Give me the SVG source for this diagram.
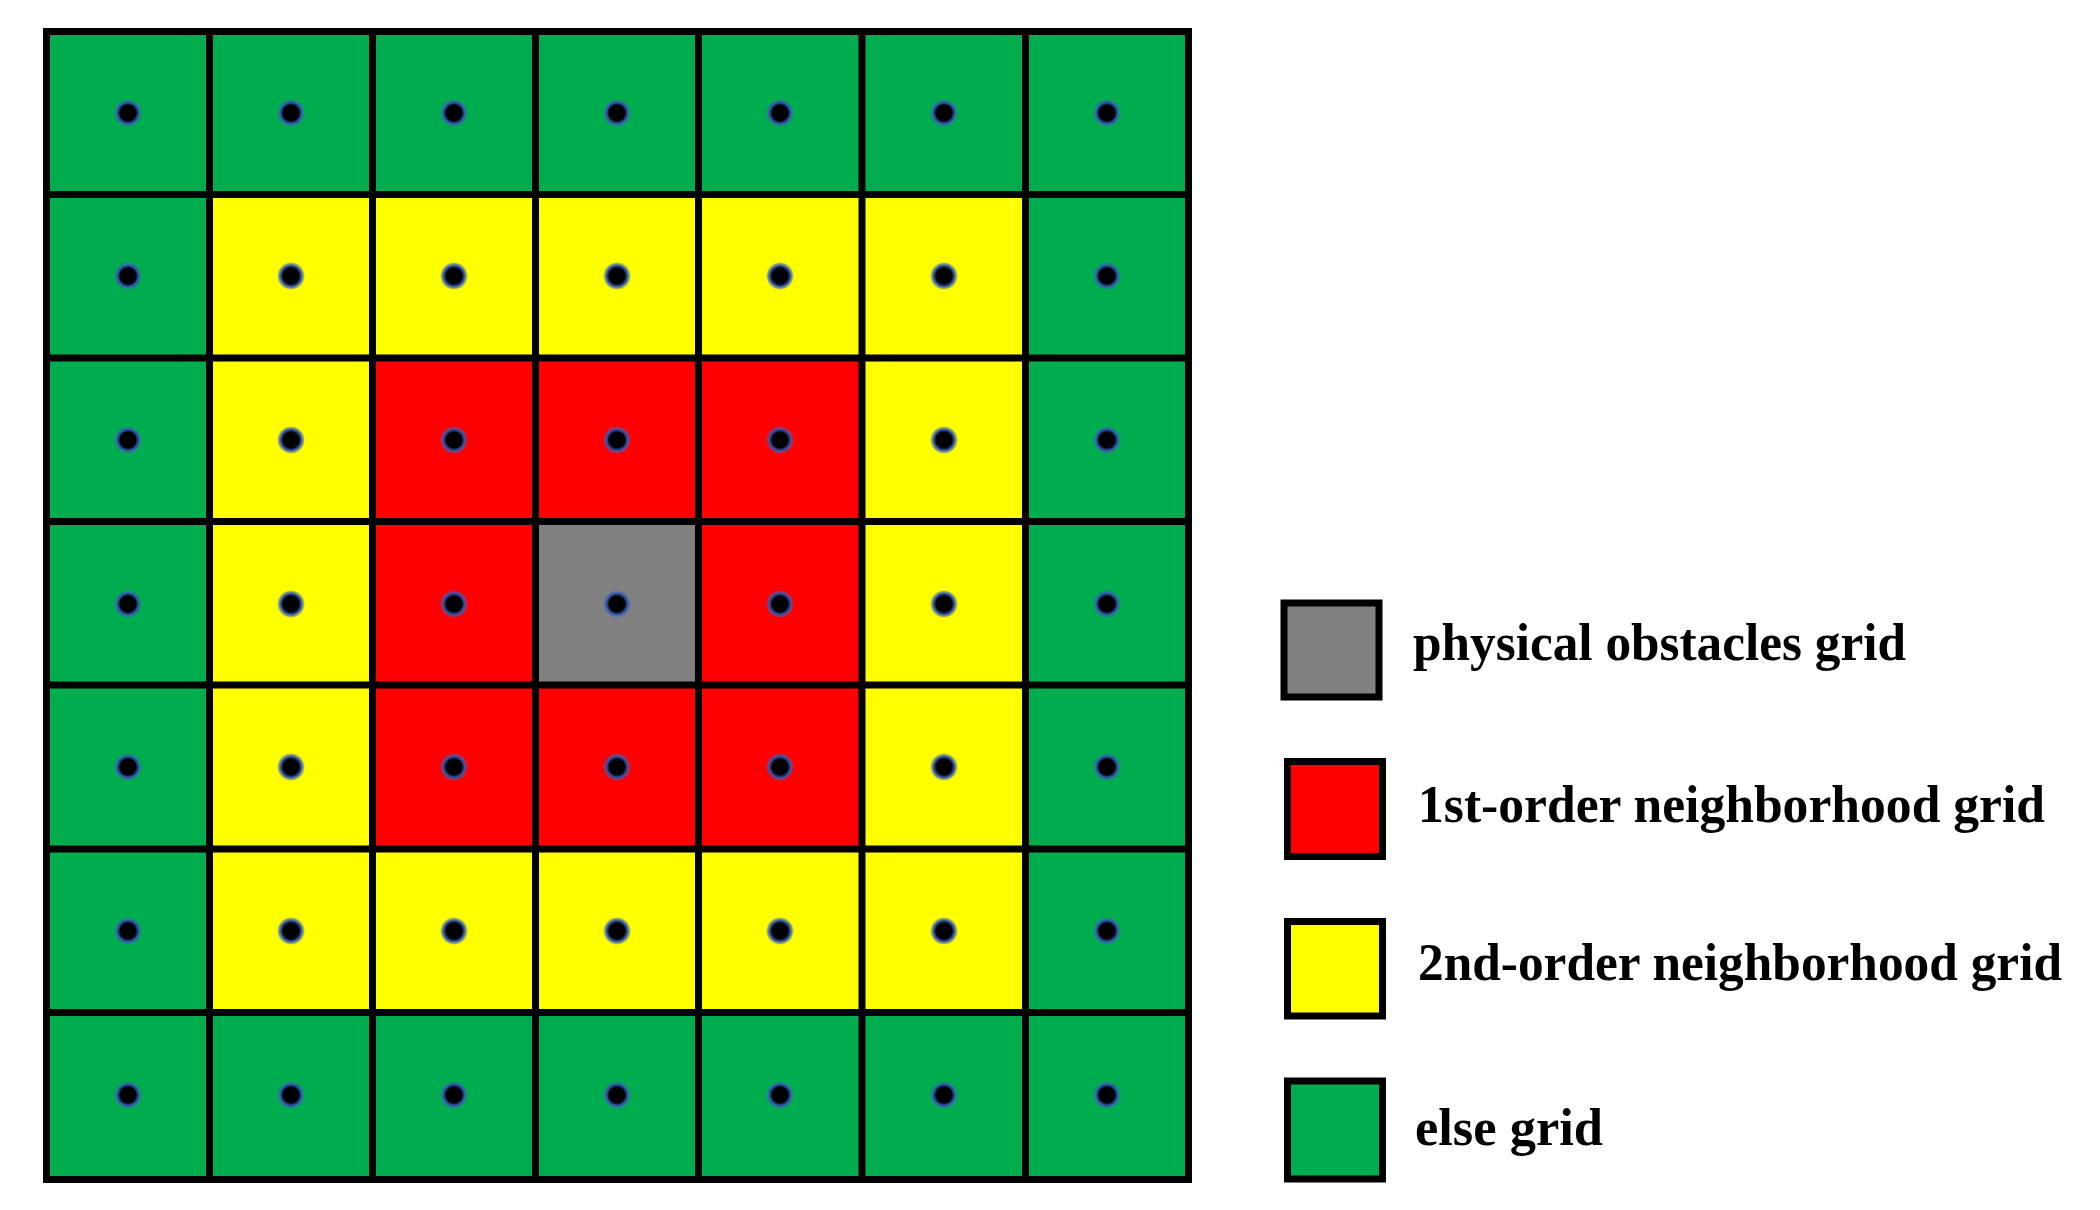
<svg xmlns="http://www.w3.org/2000/svg" width="2100" height="1210" viewBox="0 0 2100 1210">
<style>
.g{fill:#00AD4E}.y{fill:#FFFF00}.r{fill:#FF0000}.o{fill:#808080}
.ln{fill:none;stroke:#000;stroke-width:7}
.dot{fill:url(#dg)}
.lb{stroke:#000;stroke-width:7}
.tx{font-family:"Liberation Serif","DejaVu Serif",serif;font-weight:bold;font-size:53px;fill:#000}
</style>
<defs>
<radialGradient id="dg">
<stop offset="0" stop-color="#000"/>
<stop offset="0.55" stop-color="#000"/>
<stop offset="0.72" stop-color="#2a4a9a"/>
<stop offset="0.88" stop-color="#3d63c0" stop-opacity="0.6"/>
<stop offset="1" stop-color="#3d63c0" stop-opacity="0"/>
</radialGradient>
</defs>
<rect width="2100" height="1210" fill="#fff"/>
<g id="grid">
<g id="row0">
<rect id="c00" class="g" x="46.5" y="31.5" width="163" height="163"/>
<rect id="c01" class="g" x="209.5" y="31.5" width="163" height="163"/>
<rect id="c02" class="g" x="372.5" y="31.5" width="163" height="163"/>
<rect id="c03" class="g" x="535.5" y="31.5" width="163" height="163"/>
<rect id="c04" class="g" x="698.5" y="31.5" width="163.5" height="163"/>
<rect id="c05" class="g" x="862" y="31.5" width="163.5" height="163"/>
<rect id="c06" class="g" x="1025.5" y="31.5" width="163" height="163"/>
</g>
<g id="row1">
<rect id="c10" class="g" x="46.5" y="194.5" width="163" height="163.5"/>
<rect id="c11" class="y" x="209.5" y="194.5" width="163" height="163.5"/>
<rect id="c12" class="y" x="372.5" y="194.5" width="163" height="163.5"/>
<rect id="c13" class="y" x="535.5" y="194.5" width="163" height="163.5"/>
<rect id="c14" class="y" x="698.5" y="194.5" width="163.5" height="163.5"/>
<rect id="c15" class="y" x="862" y="194.5" width="163.5" height="163.5"/>
<rect id="c16" class="g" x="1025.5" y="194.5" width="163" height="163.5"/>
</g>
<g id="row2">
<rect id="c20" class="g" x="46.5" y="358" width="163" height="163.5"/>
<rect id="c21" class="y" x="209.5" y="358" width="163" height="163.5"/>
<rect id="c22" class="r" x="372.5" y="358" width="163" height="163.5"/>
<rect id="c23" class="r" x="535.5" y="358" width="163" height="163.5"/>
<rect id="c24" class="r" x="698.5" y="358" width="163.5" height="163.5"/>
<rect id="c25" class="y" x="862" y="358" width="163.5" height="163.5"/>
<rect id="c26" class="g" x="1025.5" y="358" width="163" height="163.5"/>
</g>
<g id="row3">
<rect id="c30" class="g" x="46.5" y="521.5" width="163" height="163.5"/>
<rect id="c31" class="y" x="209.5" y="521.5" width="163" height="163.5"/>
<rect id="c32" class="r" x="372.5" y="521.5" width="163" height="163.5"/>
<rect id="c33" class="o" x="535.5" y="521.5" width="163" height="163.5"/>
<rect id="c34" class="r" x="698.5" y="521.5" width="163.5" height="163.5"/>
<rect id="c35" class="y" x="862" y="521.5" width="163.5" height="163.5"/>
<rect id="c36" class="g" x="1025.5" y="521.5" width="163" height="163.5"/>
</g>
<g id="row4">
<rect id="c40" class="g" x="46.5" y="685" width="163" height="164"/>
<rect id="c41" class="y" x="209.5" y="685" width="163" height="164"/>
<rect id="c42" class="r" x="372.5" y="685" width="163" height="164"/>
<rect id="c43" class="r" x="535.5" y="685" width="163" height="164"/>
<rect id="c44" class="r" x="698.5" y="685" width="163.5" height="164"/>
<rect id="c45" class="y" x="862" y="685" width="163.5" height="164"/>
<rect id="c46" class="g" x="1025.5" y="685" width="163" height="164"/>
</g>
<g id="row5">
<rect id="c50" class="g" x="46.5" y="849" width="163" height="163.5"/>
<rect id="c51" class="y" x="209.5" y="849" width="163" height="163.5"/>
<rect id="c52" class="y" x="372.5" y="849" width="163" height="163.5"/>
<rect id="c53" class="y" x="535.5" y="849" width="163" height="163.5"/>
<rect id="c54" class="y" x="698.5" y="849" width="163.5" height="163.5"/>
<rect id="c55" class="y" x="862" y="849" width="163.5" height="163.5"/>
<rect id="c56" class="g" x="1025.5" y="849" width="163" height="163.5"/>
</g>
<g id="row6">
<rect id="c60" class="g" x="46.5" y="1012.5" width="163" height="167"/>
<rect id="c61" class="g" x="209.5" y="1012.5" width="163" height="167"/>
<rect id="c62" class="g" x="372.5" y="1012.5" width="163" height="167"/>
<rect id="c63" class="g" x="535.5" y="1012.5" width="163" height="167"/>
<rect id="c64" class="g" x="698.5" y="1012.5" width="163.5" height="167"/>
<rect id="c65" class="g" x="862" y="1012.5" width="163.5" height="167"/>
<rect id="c66" class="g" x="1025.5" y="1012.5" width="163" height="167"/>
</g>
<path id="gridlines" class="ln" d="M209.5 31.5V1179.5M372.5 31.5V1179.5M535.5 31.5V1179.5M698.5 31.5V1179.5M862 31.5V1179.5M1025.5 31.5V1179.5M46.5 194.5H1188.5M46.5 358H1188.5M46.5 521.5H1188.5M46.5 685H1188.5M46.5 849H1188.5M46.5 1012.5H1188.5"/>
<rect id="border" class="ln" x="46.5" y="31.5" width="1142" height="1148"/>
<g id="dots">
<circle class="dot" cx="128" cy="113" r="14"/><circle class="dot" cx="291" cy="113" r="14"/><circle class="dot" cx="454" cy="113" r="14"/><circle class="dot" cx="617" cy="113" r="14"/><circle class="dot" cx="780" cy="113" r="14"/><circle class="dot" cx="944" cy="113" r="14"/><circle class="dot" cx="1107" cy="113" r="14"/>
<circle class="dot" cx="128" cy="276" r="14"/><circle class="dot" cx="291" cy="276" r="14"/><circle class="dot" cx="454" cy="276" r="14"/><circle class="dot" cx="617" cy="276" r="14"/><circle class="dot" cx="780" cy="276" r="14"/><circle class="dot" cx="944" cy="276" r="14"/><circle class="dot" cx="1107" cy="276" r="14"/>
<circle class="dot" cx="128" cy="440" r="14"/><circle class="dot" cx="291" cy="440" r="14"/><circle class="dot" cx="454" cy="440" r="14"/><circle class="dot" cx="617" cy="440" r="14"/><circle class="dot" cx="780" cy="440" r="14"/><circle class="dot" cx="944" cy="440" r="14"/><circle class="dot" cx="1107" cy="440" r="14"/>
<circle class="dot" cx="128" cy="604" r="14"/><circle class="dot" cx="291" cy="604" r="14"/><circle class="dot" cx="454" cy="604" r="14"/><circle class="dot" cx="617" cy="604" r="14"/><circle class="dot" cx="780" cy="604" r="14"/><circle class="dot" cx="944" cy="604" r="14"/><circle class="dot" cx="1107" cy="604" r="14"/>
<circle class="dot" cx="128" cy="767" r="14"/><circle class="dot" cx="291" cy="767" r="14"/><circle class="dot" cx="454" cy="767" r="14"/><circle class="dot" cx="617" cy="767" r="14"/><circle class="dot" cx="780" cy="767" r="14"/><circle class="dot" cx="944" cy="767" r="14"/><circle class="dot" cx="1107" cy="767" r="14"/>
<circle class="dot" cx="128" cy="931" r="14"/><circle class="dot" cx="291" cy="931" r="14"/><circle class="dot" cx="454" cy="931" r="14"/><circle class="dot" cx="617" cy="931" r="14"/><circle class="dot" cx="780" cy="931" r="14"/><circle class="dot" cx="944" cy="931" r="14"/><circle class="dot" cx="1107" cy="931" r="14"/>
<circle class="dot" cx="128" cy="1095" r="14"/><circle class="dot" cx="291" cy="1095" r="14"/><circle class="dot" cx="454" cy="1095" r="14"/><circle class="dot" cx="617" cy="1095" r="14"/><circle class="dot" cx="780" cy="1095" r="14"/><circle class="dot" cx="944" cy="1095" r="14"/><circle class="dot" cx="1107" cy="1095" r="14"/>
</g>
</g>
<g id="legend-obstacle">
<rect class="o lb" x="1284" y="603" width="95" height="94"/>
<text class="tx" x="1413" y="660" textLength="493" lengthAdjust="spacingAndGlyphs">physical obstacles grid</text>
</g>
<g id="legend-first">
<rect class="r lb" x="1287.5" y="761.5" width="95" height="95"/>
<text class="tx" x="1418" y="822" textLength="627" lengthAdjust="spacingAndGlyphs">1st-order neighborhood grid</text>
</g>
<g id="legend-second">
<rect class="y lb" x="1287.5" y="921.5" width="95" height="94.5"/>
<text class="tx" x="1418" y="980" textLength="644" lengthAdjust="spacingAndGlyphs">2nd-order neighborhood grid</text>
</g>
<g id="legend-else">
<rect class="g lb" x="1287.5" y="1081" width="95" height="98"/>
<text class="tx" x="1415" y="1145" textLength="188" lengthAdjust="spacingAndGlyphs">else grid</text>
</g>
</svg>
